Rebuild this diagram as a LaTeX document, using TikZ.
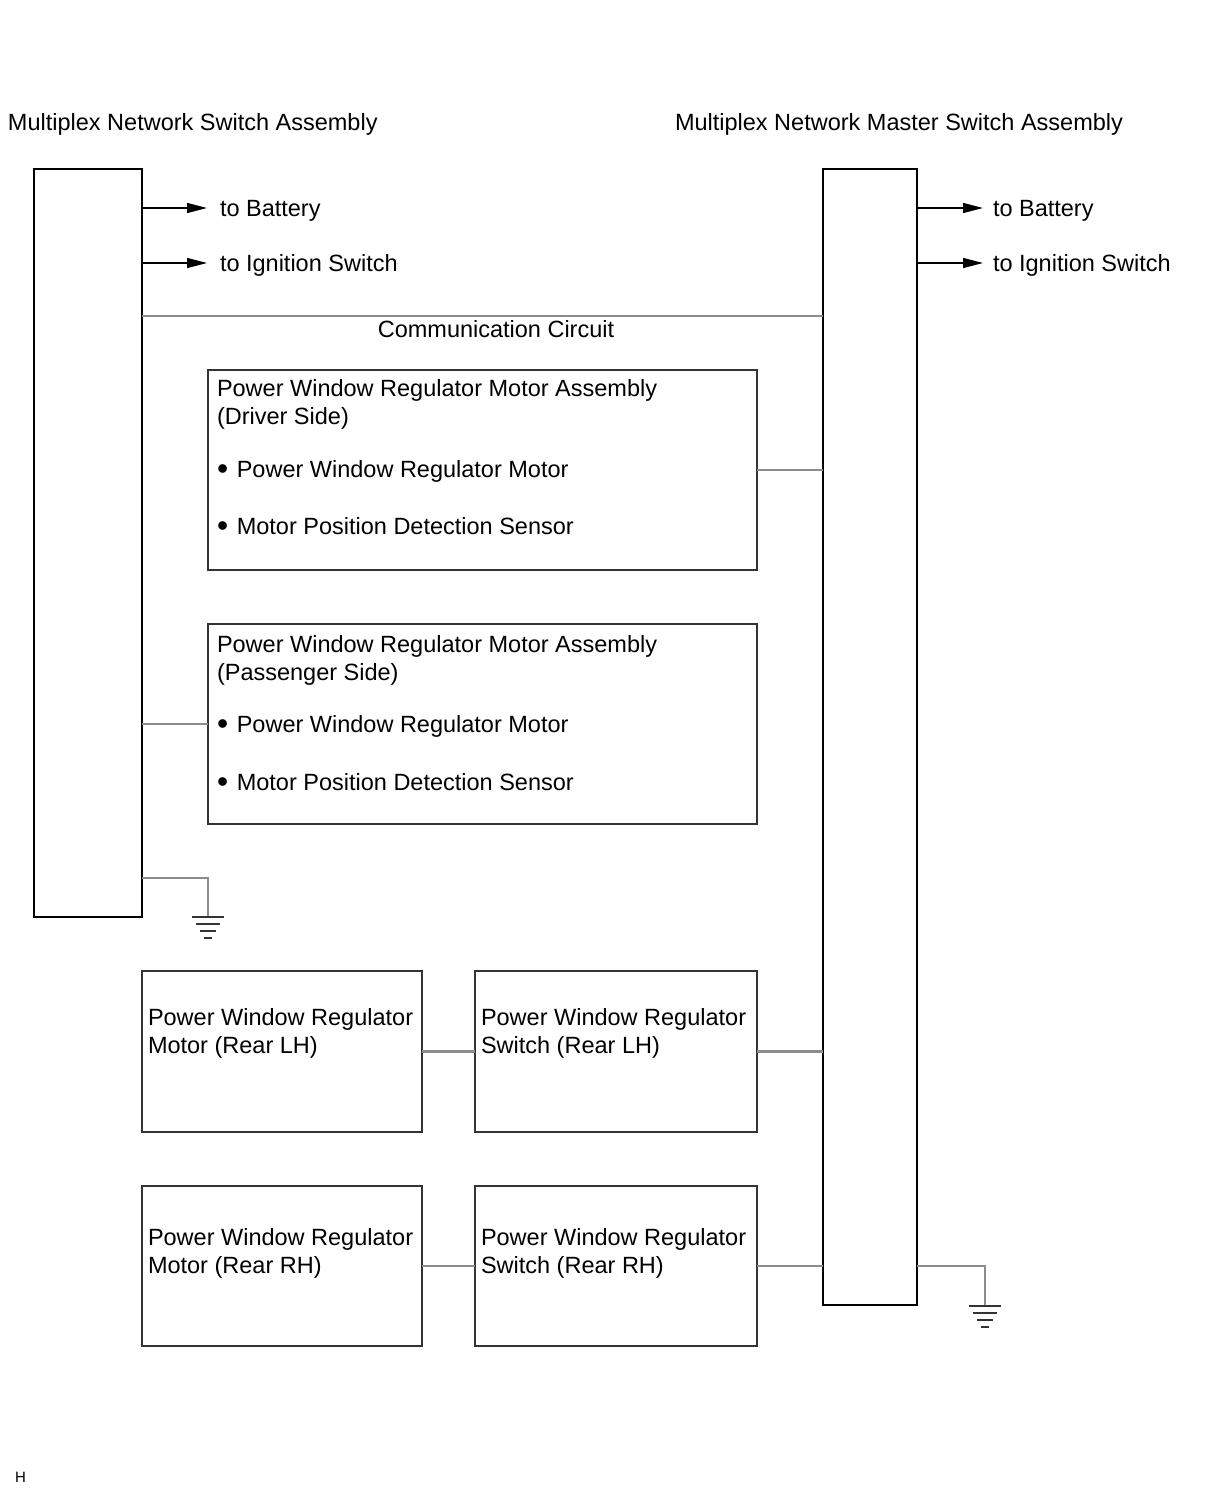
\documentclass[tikz,border=0pt]{standalone}
\usepackage{fontspec}
\setmainfont{Liberation Sans}
\definecolor{wire}{gray}{0.55}
\definecolor{edge}{gray}{0.2}
\usetikzlibrary{arrows.meta}
\usetikzlibrary{positioning}
\tikzstyle{base}=[x=1pt, y=-1pt, inner sep=0pt, outer sep=0pt]
\tikzstyle{block}=[draw=black, line width=2pt, inner sep=0pt]
\tikzstyle{unit}=[draw=edge, line width=2pt, inner sep=0pt]
\tikzstyle{txt}=[anchor=base west, inner sep=0pt, font=\fontsize{23.5}{28}\selectfont]
\tikzstyle{conn}=[draw=wire, line width=2.5pt]
\tikzstyle{feed}=[black, line width=1.3pt, -{Triangle[length=20pt,width=10pt]}]
\newcommand*{\earth}[1]{%
    \draw [edge, line width=2pt] ([shift={(-16,0)}]#1) -- ([shift={(16,0)}]#1);
    \draw [edge, line width=2pt] ([shift={(-12,7)}]#1) -- ([shift={(12,7)}]#1);
    \draw [edge, line width=2pt] ([shift={(-8,14)}]#1) -- ([shift={(8,14)}]#1);
    \draw [edge, line width=2pt] ([shift={(-4,21)}]#1) -- ([shift={(4,21)}]#1);
}
\newcommand*{\bul}{\raisebox{-2pt}{\scalebox{1.35}{\textbullet}}\hspace{8.7pt}}

\begin{document}
\begin{tikzpicture}[base]
    \path [use as bounding box] (0,0) rectangle (1210,1498);
    % switch assemblies
    \node [block, minimum width=108pt, minimum height=748pt] (slave) at (88,543) {};
    \node [block, minimum width=94pt, minimum height=1136pt] (master) at (870,737) {};
    \node [txt] (slaveT) at (8,131) {Multiplex Network Switch Assembly};
    \node [txt] (masterT) at (675,131) {Multiplex Network Master Switch Assembly};
    % feeds
    \coordinate (batL) at (207,208);
    \coordinate (igL) at (207,263);
    \coordinate (batR) at (983,208);
    \coordinate (igR) at (983,263);
    \draw [feed] (slave.east |- batL) -- (batL);
    \draw [feed] (slave.east |- igL) -- (igL);
    \draw [feed] (master.east |- batR) -- (batR);
    \draw [feed] (master.east |- igR) -- (igR);
    \node [txt] (batLT) at (220,216) {to Battery};
    \node [txt] (igLT) at (220,271) {to Ignition Switch};
    \node [txt] (batRT) at (993,216) {to Battery};
    \node [txt] (igRT) at (993,271) {to Ignition Switch};
    % communication circuit
    \coordinate (comm) at (0,316);
    \draw [conn] (slave.east |- comm) -- (master.west |- comm);
    \node [txt, anchor=base] (commT) at (496,337) {Communication Circuit};
    % front motors
    \node [unit, minimum width=549pt, minimum height=200pt] (drv) at (482.5,470) {};
    \node [txt] (drvA) at (217,396) {Power Window Regulator Motor Assembly};
    \node [txt] (drvB) at (217,424) {(Driver Side)};
    \node [txt] (drvC) at (217,477) {\bul Power Window Regulator Motor};
    \node [txt] (drvD) at (217,534) {\bul Motor Position Detection Sensor};
    \node [unit, minimum width=549pt, minimum height=200pt] (pas) at (482.5,724) {};
    \node [txt] (pasA) at (217,652) {Power Window Regulator Motor Assembly};
    \node [txt] (pasB) at (217,680) {(Passenger Side)};
    \node [txt] (pasC) at (217,732) {\bul Power Window Regulator Motor};
    \node [txt] (pasD) at (217,790) {\bul Motor Position Detection Sensor};
    \draw [conn] (drv.east) -- (drv.east -| master.west);
    \draw [conn] (slave.east |- pas.west) -- (pas.west);
    % rear units
    \node [unit, minimum width=280pt, minimum height=161pt] (rlhm) at (282,1051.5) {};
    \node [unit, minimum width=282pt, minimum height=161pt] (rlhs) at (616,1051.5) {};
    \node [unit, minimum width=280pt, minimum height=160pt] (rrhm) at (282,1266) {};
    \node [unit, minimum width=282pt, minimum height=160pt] (rrhs) at (616,1266) {};
    \node [txt] (rlhmA) at (148,1025) {Power Window Regulator};
    \node [txt] (rlhmB) at (148,1053) {Motor (Rear LH)};
    \node [txt] (rlhsA) at (481,1025) {Power Window Regulator};
    \node [txt] (rlhsB) at (481,1053) {Switch (Rear LH)};
    \node [txt] (rrhmA) at (148,1245) {Power Window Regulator};
    \node [txt] (rrhmB) at (148,1273) {Motor (Rear RH)};
    \node [txt] (rrhsA) at (481,1245) {Power Window Regulator};
    \node [txt] (rrhsB) at (481,1273) {Switch (Rear RH)};
    \draw [conn] (rlhm.east) -- (rlhs.west);
    \draw [conn] (rlhs.east) -- (rlhs.east -| master.west);
    \draw [conn] (rrhm.east) -- (rrhs.west);
    \draw [conn] (rrhs.east) -- (rrhs.east -| master.west);
    % grounds
    \coordinate (gndL) at (208,917);
    \coordinate (gndR) at (985,1306);
    \draw [conn] (slave.east |- 0,878) -| (gndL);
    \draw [conn] (master.east |- rrhs.east) -| (gndR);
    \earth{gndL}
    \earth{gndR}
    \node [txt, font=\fontsize{15}{18}\selectfont] (mark) at (15,1482) {H};
\end{tikzpicture}
\end{document}
